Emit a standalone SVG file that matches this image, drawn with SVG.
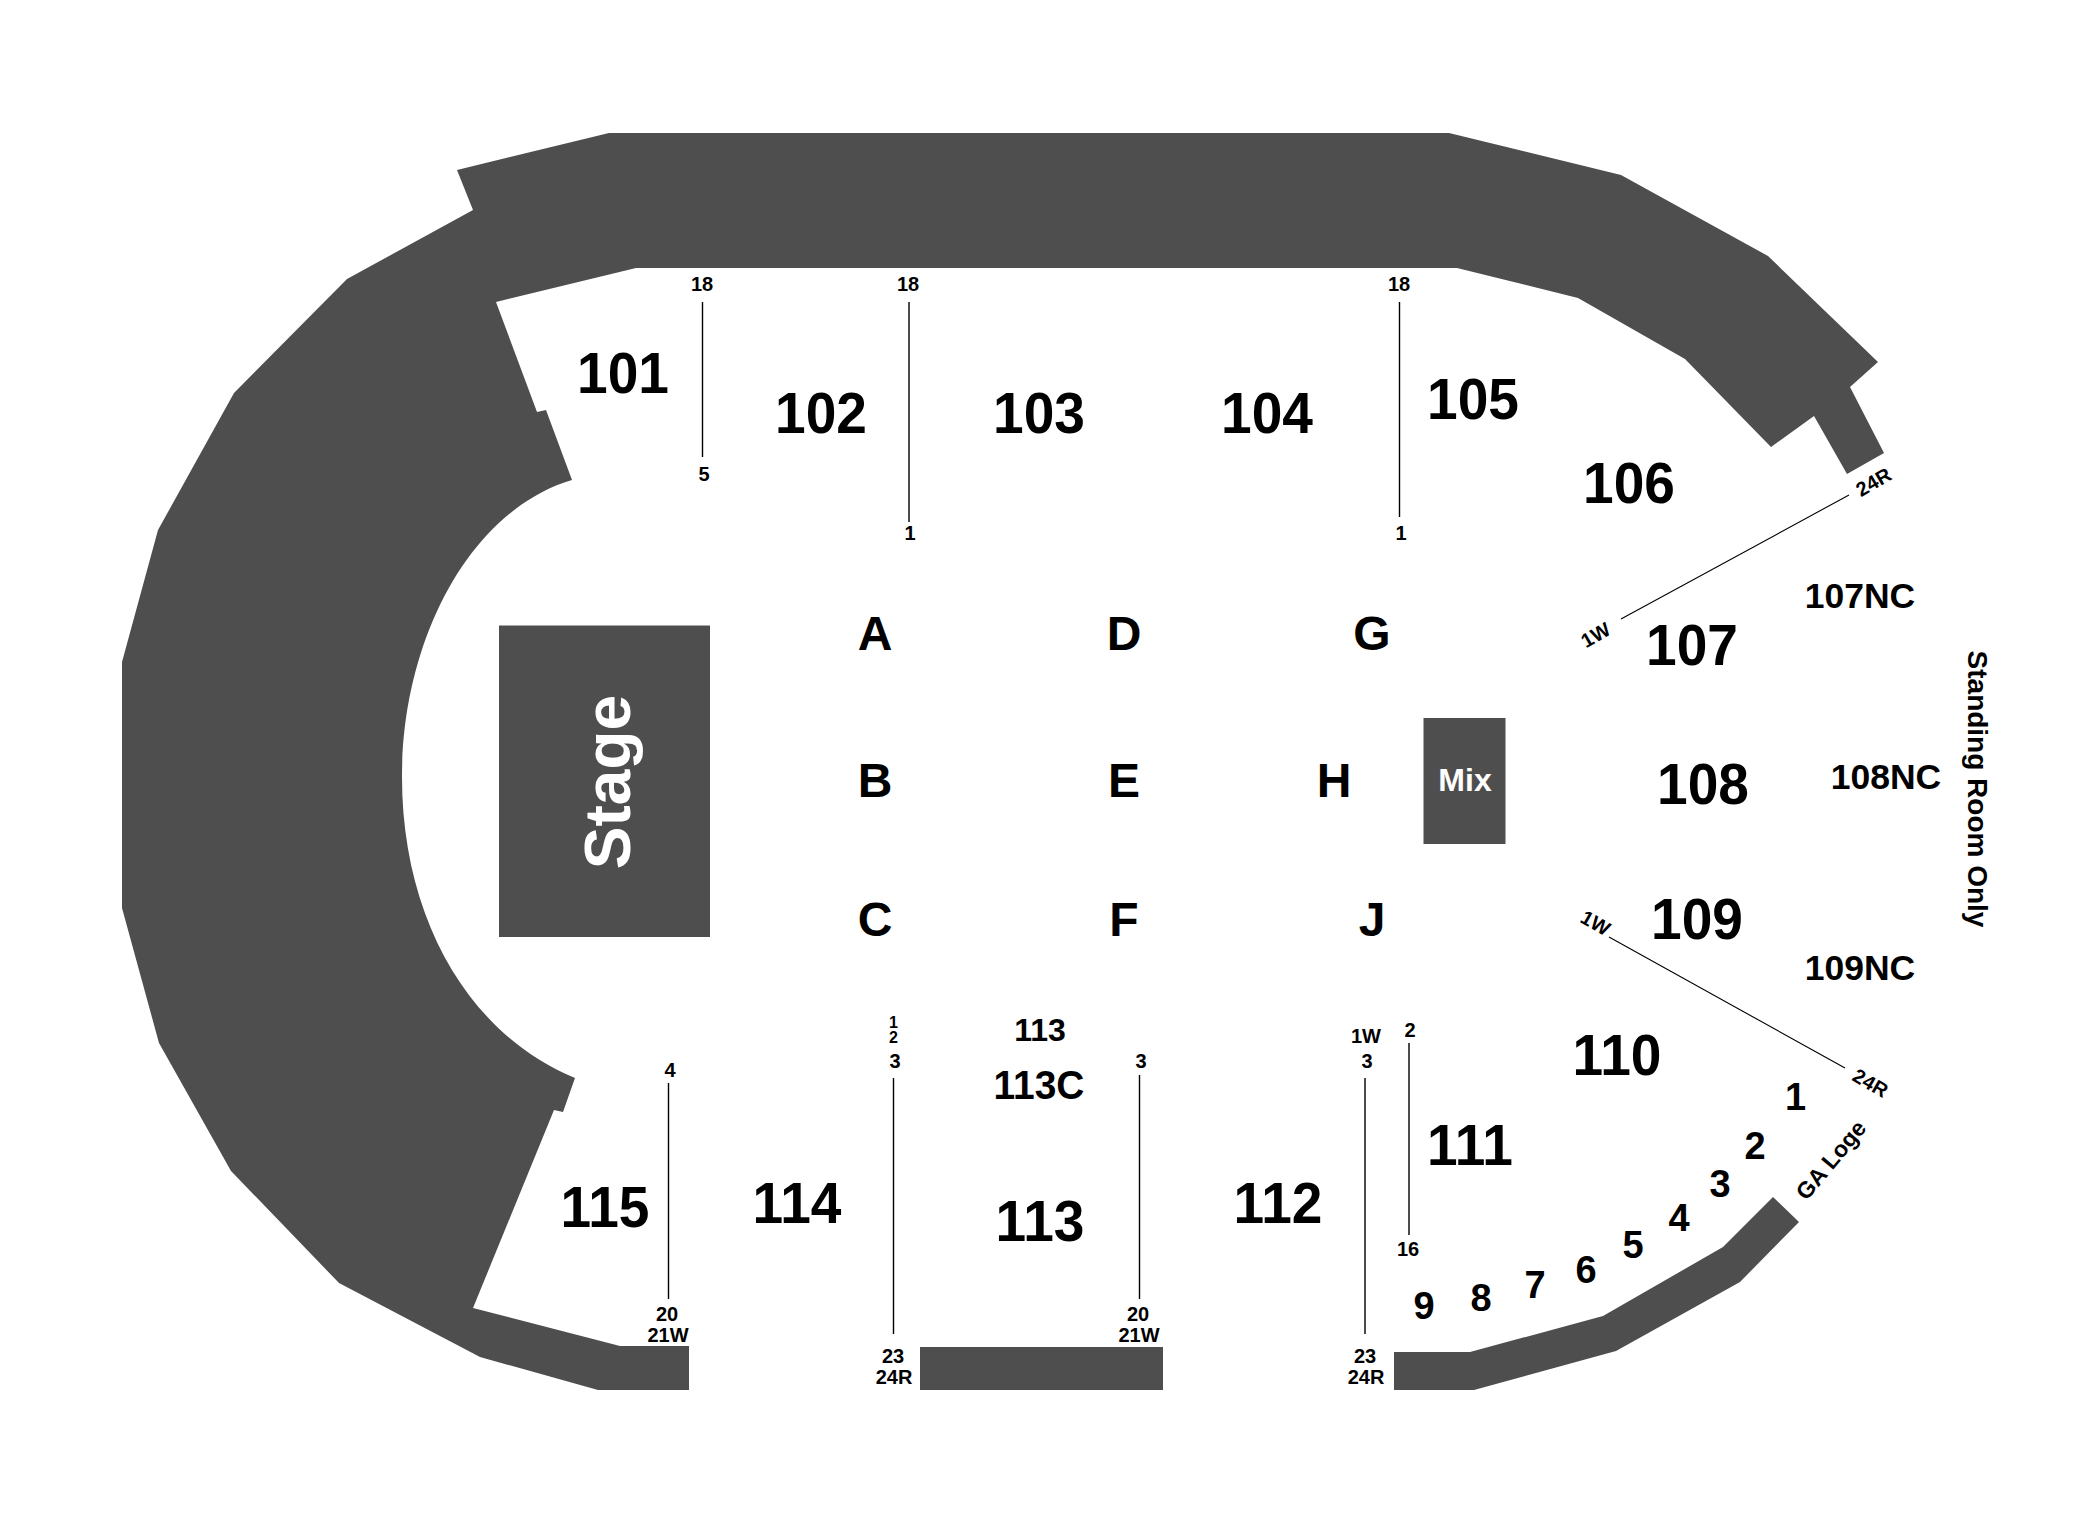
<svg xmlns="http://www.w3.org/2000/svg" width="2100" height="1520" viewBox="0 0 2100 1520">
<style>
.s{fill:#4e4e4e}
.l{stroke:#000;stroke-width:1.4;fill:none}
text{font-family:"Liberation Sans",Arial,sans-serif;font-weight:bold;text-anchor:middle;fill:#000}
.b{font-size:58px}
.m{font-size:35.500px}
.c{font-size:41px}
.a{font-size:48px}
.n{font-size:38px}
.t{font-size:20px}
.u{font-size:16px}
.r{font-size:20px}
.w{fill:#fff}
</style>
<rect width="2100" height="1520" fill="#fff"/>
<g id="shapes">
<path class="s" d="M457,170 L609,133 L1449,133 L1621,175 L1768,256 L1878,362 L1850,387 L1884,453 L1847,474 L1814,416 L1771,447 L1685,359 L1578,298 L1457,268 L636,268 L496,302 L537,412 L546,410 L572,480 C470,510 402,640 402,777 C402,920 470,1035 575,1078 L563,1112 L554,1110 L473,1308 L620,1346 L689,1346 L689,1390 L598,1390 L480,1357 L339,1283 L231,1171 L159,1043 L122,908 L122,662 L158,530 L234,393 L347,279 L473,210 Z"/>
<rect id="stage" class="s" x="499" y="625.500" width="211" height="311.500"/>
<rect id="mix" class="s" x="1423.500" y="718" width="82" height="126"/>
<rect class="s" x="920" y="1347" width="243" height="43"/>
<path id="ga-loge" class="s" d="M1394,1352 L1470,1352 L1603,1316 L1723,1247 L1773,1197 L1799,1222 L1740,1282 L1616,1351 L1474,1390 L1394,1390 Z"/>
</g>
<g id="connectors">
<path class="l" d="M702.500,302V457M909,302V522M1399.500,302V517M893.500,1078V1334M1139.500,1075V1299M668.500,1083V1299M1365,1078V1334M1409,1043V1235"/>
<path class="l" style="stroke-width:1.100" d="M1849,495L1621,619M1609,937L1845,1068"/>
</g>
<g id="sections">
<text class="b" transform="translate(623 393) scale(.95 1)">101</text>
<text class="b" transform="translate(821 433) scale(.95 1)">102</text>
<text class="b" transform="translate(1039 433) scale(.95 1)">103</text>
<text class="b" transform="translate(1267 433) scale(.95 1)">104</text>
<text class="b" transform="translate(1473 419) scale(.95 1)">105</text>
<text class="b" transform="translate(1629 503) scale(.95 1)">106</text>
<text class="b" transform="translate(1692 665) scale(.95 1)">107</text>
<text class="b" transform="translate(1703 804) scale(.95 1)">108</text>
<text class="b" transform="translate(1697 939) scale(.95 1)">109</text>
<text class="b" transform="translate(1617 1075) scale(.95 1)">110</text>
<text class="b" transform="translate(1470 1165) scale(.95 1)">111</text>
<text class="b" transform="translate(1278 1223) scale(.95 1)">112</text>
<text class="b" transform="translate(1040 1241) scale(.95 1)">113</text>
<text class="b" transform="translate(797 1223) scale(.95 1)">114</text>
<text class="b" transform="translate(605 1227) scale(.95 1)">115</text>
<text class="c" transform="translate(1039 1099) scale(.95 1)">113C</text>
<text class="t" style="font-size:32px" x="1040" y="1041">113</text>
<text class="m" x="1860" y="608">107NC</text>
<text class="m" x="1886" y="789">108NC</text>
<text class="m" x="1860" y="980">109NC</text>
<text class="a" x="875" y="649.500">A</text><text class="a" x="1124" y="649.500">D</text><text class="a" x="1372" y="649.500">G</text>
<text class="a" x="875" y="796.500">B</text><text class="a" x="1124" y="796.500">E</text><text class="a" x="1334" y="796.500">H</text>
<text class="a" x="875" y="936">C</text><text class="a" x="1124" y="936">F</text><text class="a" x="1372" y="936">J</text>
<text class="w" style="font-size:64px" transform="translate(630 782) rotate(-90)">Stage</text>
<text class="w" style="font-size:32px" x="1465" y="791">Mix</text>
<text style="font-size:28px" transform="translate(1968 789) rotate(90)">Standing Room Only</text>
</g>
<g id="row-numbers">
<text class="t" x="702" y="291">18</text><text class="t" x="704" y="481">5</text>
<text class="t" x="908" y="291">18</text><text class="t" x="910" y="540">1</text>
<text class="t" x="1399" y="291">18</text><text class="t" x="1401" y="540">1</text>
<text class="t" x="670" y="1077">4</text><text class="t" x="667" y="1321">20</text><text class="t" x="668" y="1342">21W</text>
<text class="u" x="893.500" y="1028">1</text><text class="u" x="893.500" y="1043">2</text>
<text class="t" x="895" y="1068">3</text><text class="t" x="1141" y="1068">3</text>
<text class="t" x="1138" y="1321">20</text><text class="t" x="1139" y="1342">21W</text>
<text class="t" x="893" y="1363">23</text><text class="t" x="894" y="1384">24R</text>
<text class="t" x="1365" y="1363">23</text><text class="t" x="1366" y="1384">24R</text>
<text class="t" x="1366" y="1043">1W</text><text class="t" x="1367" y="1068">3</text>
<text class="t" x="1410" y="1037">2</text><text class="t" x="1408" y="1256">16</text>
<text class="r" transform="translate(1877 488) rotate(-30)">24R</text>
<text class="r" transform="translate(1599 641) rotate(-30)">1W</text>
<text class="r" transform="translate(1592 929) rotate(30)">1W</text>
<text class="r" transform="translate(1867 1089) rotate(30)">24R</text>
</g>
<g id="loge">
<text class="n" x="1795.500" y="1110">1</text><text class="n" x="1755" y="1159">2</text><text class="n" x="1720" y="1197">3</text>
<text class="n" x="1679" y="1231">4</text><text class="n" x="1633" y="1258">5</text><text class="n" x="1586" y="1283">6</text>
<text class="n" x="1535" y="1298">7</text><text class="n" x="1481" y="1311">8</text><text class="n" x="1424" y="1319">9</text>
<text style="font-size:23px" transform="translate(1837 1165) rotate(-50)">GA Loge</text>
</g>
</svg>
